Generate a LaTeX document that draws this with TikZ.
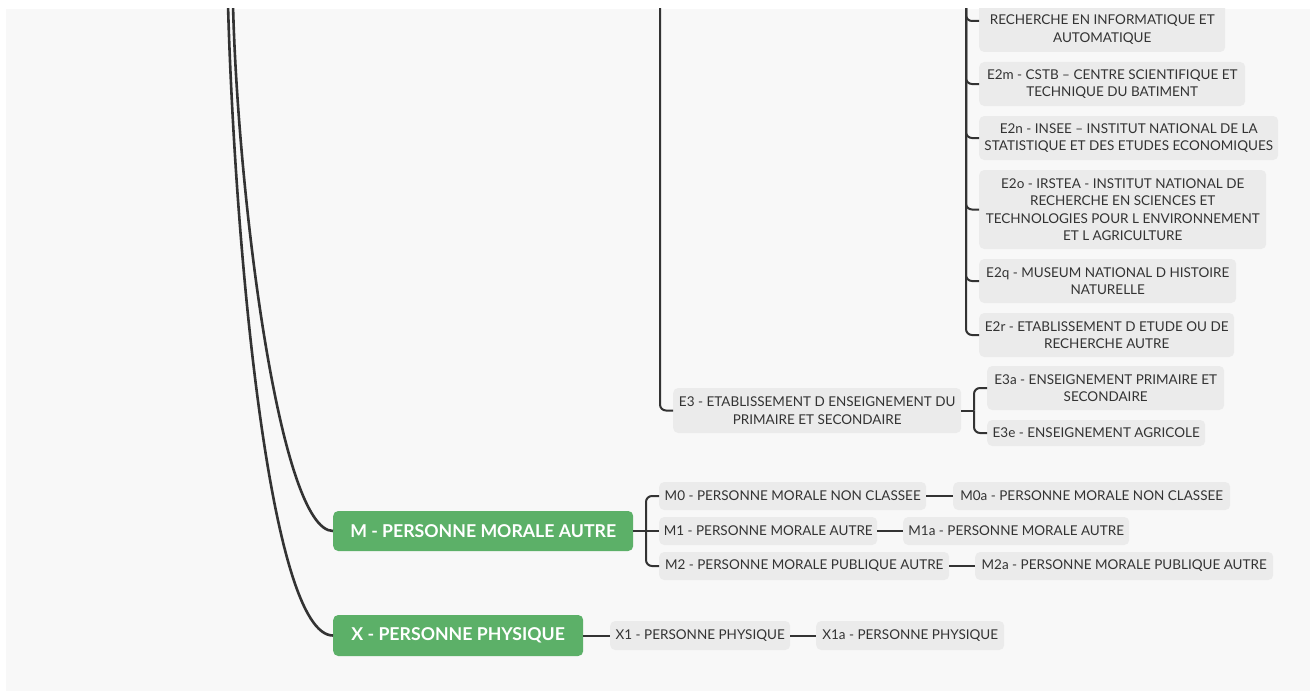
\documentclass[tikz,border=0pt]{standalone}
\usepackage{fontspec}
\setmainfont{Lato}
\definecolor{canvas}{HTML}{F8F8F8}
\definecolor{leaffill}{HTML}{EBEBEB}
\definecolor{topicgreen}{HTML}{5CB068}
\definecolor{ink}{HTML}{333333}
\tikzset{
  leaf/.style={fill=leaffill, rounded corners=5pt, align=center, text=ink,
    font=\fontsize{13.5}{17.5}\selectfont, inner xsep=4pt, inner ysep=3pt, anchor=west},
  topic/.style={fill=topicgreen, rounded corners=5pt, text=white, align=center,
    font=\fontsize{17.7}{20}\selectfont\bfseries, inner sep=4pt, anchor=west},
  trunk/.style={draw=ink, line width=2.6pt},
  branch/.style={draw=ink, line width=2pt, rounded corners=6pt},
  link/.style={draw=ink, line width=2pt},
}
\begin{document}
\begin{tikzpicture}[x=1pt,y=-1pt]
\useasboundingbox (0,0) rectangle (1311,693);
\fill[canvas] (6,9) rectangle (1310,691);
\begin{scope}
\clip (6,9) rectangle (1310,691);

% research establishments (E2)
\node[leaf, minimum width=246, minimum height=62] (e2l) at (979,21)
  {\rule{0pt}{9.5pt}\\RECHERCHE EN INFORMATIQUE ET\\AUTOMATIQUE};
\node[leaf, minimum width=266, minimum height=44] (e2m) at (979,84)
  {E2m - CSTB – CENTRE SCIENTIFIQUE ET\\TECHNIQUE DU BATIMENT};
\node[leaf, minimum width=299, minimum height=44] (e2n) at (979,138)
  {E2n - INSEE – INSTITUT NATIONAL DE LA\\STATISTIQUE ET DES ETUDES ECONOMIQUES};
\node[leaf, minimum width=287, minimum height=79] (e2o) at (979,209.5)
  {E2o - IRSTEA - INSTITUT NATIONAL DE\\RECHERCHE EN SCIENCES ET\\TECHNOLOGIES POUR L ENVIRONNEMENT\\ET L AGRICULTURE};
\node[leaf, minimum width=257, minimum height=44] (e2q) at (979,281)
  {E2q - MUSEUM NATIONAL D HISTOIRE\\NATURELLE};
\node[leaf, minimum width=255, minimum height=44] (e2r) at (979,335)
  {E2r - ETABLISSEMENT D ETUDE OU DE\\RECHERCHE AUTRE};

% schools (E3)
\node[leaf, minimum width=288, minimum height=45] (e3) at (673,410.5)
  {E3 - ETABLISSEMENT D ENSEIGNEMENT DU\\PRIMAIRE ET SECONDAIRE};
\node[leaf, minimum width=237, minimum height=44] (e3a) at (987,388)
  {E3a - ENSEIGNEMENT PRIMAIRE ET\\SECONDAIRE};
\node[leaf, minimum width=218, minimum height=26] (e3e) at (987,433)
  {E3e - ENSEIGNEMENT AGRICOLE};

% other legal persons (M)
\node[topic, minimum width=300, minimum height=40] (m) at (333,531)
  {M - PERSONNE MORALE AUTRE};
\node[leaf, minimum width=267, minimum height=28] (m0) at (659,496)
  {M0 - PERSONNE MORALE NON CLASSEE};
\node[leaf, minimum width=218, minimum height=28] (m1) at (659,531)
  {M1 - PERSONNE MORALE AUTRE};
\node[leaf, minimum width=290, minimum height=28] (m2) at (659,566)
  {M2 - PERSONNE MORALE PUBLIQUE AUTRE};
\node[leaf, minimum width=277, minimum height=28] (m0a) at (953,496)
  {M0a - PERSONNE MORALE NON CLASSEE};
\node[leaf, minimum width=226, minimum height=28] (m1a) at (903,531)
  {M1a - PERSONNE MORALE AUTRE};
\node[leaf, minimum width=298, minimum height=28] (m2a) at (975,566)
  {M2a - PERSONNE MORALE PUBLIQUE AUTRE};

% natural persons (X)
\node[topic, minimum width=250, minimum height=41] (x) at (333,635.5)
  {X - PERSONNE PHYSIQUE};
\node[leaf, minimum width=180, minimum height=29] (x1) at (610,635.5)
  {X1 - PERSONNE PHYSIQUE};
\node[leaf, minimum width=188, minimum height=29] (x1a) at (816,635.5)
  {X1a - PERSONNE PHYSIQUE};

% connectors
\coordinate (etrunk) at (660,-20);
\coordinate (e2trunk) at (966,-20);
\coordinate (e3fork) at (974,410.5);
\coordinate (mfork) at (646,531);
\coordinate (rootm) at (233,5);
\coordinate (rootx) at (228,5);

\foreach \n in {e2l,e2m,e2n,e2o,e2q,e2r}
  \draw[branch] (e2trunk) |- (\n.west);
\draw[branch] (etrunk) |- (e3.west);
\draw[link] (e3.east) -- (e3fork);
\draw[branch] (e3fork) |- (e3a.west);
\draw[branch] (e3fork) |- (e3e.west);

\draw[link] (m.east) -- (m1.west);
\draw[branch] (mfork) |- (m0.west);
\draw[branch] (mfork) |- (m2.west);
\draw[link] (m0.east) -- (m0a.west);
\draw[link] (m1.east) -- (m1a.west);
\draw[link] (m2.east) -- (m2a.west);

\draw[link] (x.east) -- (x1.west);
\draw[link] (x1.east) -- (x1a.west);

\draw[trunk] (rootm) .. controls (238,200) and (280,531) .. (m.west);
\draw[trunk] (rootx) .. controls (235,250) and (270,635.5) .. (x.west);
\end{scope}
\end{tikzpicture}
\end{document}
